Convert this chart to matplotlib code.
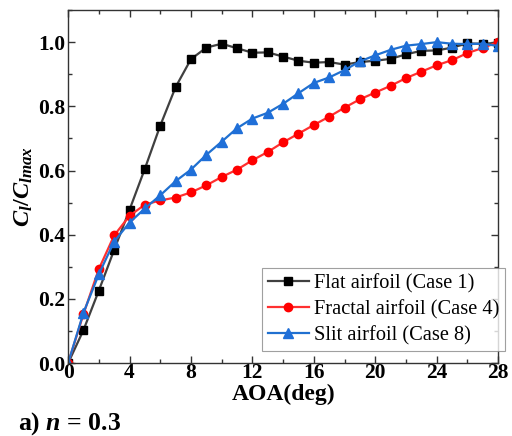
import matplotlib
matplotlib.use("Agg")
import matplotlib.pyplot as plt
from matplotlib.ticker import MultipleLocator

aoa = list(range(0, 29))
flat = [0.0, 0.103, 0.226, 0.353, 0.478, 0.606, 0.740, 0.860, 0.947, 0.983,
        0.995, 0.981, 0.967, 0.968, 0.955, 0.942, 0.936, 0.938, 0.930, 0.938,
        0.942, 0.948, 0.962, 0.973, 0.974, 0.983, 0.996, 0.995, 0.998]
fractal = [0.0, 0.153, 0.293, 0.398, 0.459, 0.494, 0.507, 0.516, 0.532, 0.554,
           0.580, 0.603, 0.632, 0.658, 0.688, 0.715, 0.742, 0.768, 0.796, 0.822,
           0.843, 0.864, 0.888, 0.908, 0.928, 0.944, 0.966, 0.982, 1.0]
slit = [0.0, 0.157, 0.277, 0.379, 0.438, 0.482, 0.523, 0.567, 0.603, 0.649,
        0.690, 0.732, 0.762, 0.780, 0.808, 0.841, 0.873, 0.890, 0.913, 0.940,
        0.959, 0.976, 0.989, 0.994, 1.0, 0.995, 0.994, 0.995, 0.988]

labels = ["Flat airfoil (Case 1)", "Fractal airfoil (Case 4)", "Slit airfoil (Case 8)"]

plt.rcParams['font.family'] = ['Liberation Serif', 'DejaVu Serif']
plt.rcParams['font.weight'] = 'bold'
plt.rcParams['mathtext.fontset'] = 'custom'
plt.rcParams['mathtext.rm'] = 'Liberation Serif:bold'
plt.rcParams['mathtext.it'] = 'Liberation Serif:italic:bold'
plt.rcParams['mathtext.bf'] = 'Liberation Serif:bold'

fig = plt.figure(figsize=(5.12, 4.36), dpi=100)
ax = fig.add_axes([0.133, 0.167, 0.840, 0.810])

ax.plot(aoa, flat, color='#404040', lw=1.6, marker='s', ms=5.3, mfc='black', mec='black', label=labels[0])
ax.plot(aoa, fractal, color='#ff3030', lw=1.6, marker='o', ms=6, mfc='#ff0000', mec='#ff0000', label=labels[1])
ax.plot(aoa, slit, color='#2070d0', lw=1.6, marker='^', ms=7, mfc='#1f6fd8', mec='#1f6fd8', label=labels[2])

ax.set_xlim(0, 28)
ax.set_ylim(0, 1.1)
ax.xaxis.set_major_locator(MultipleLocator(4))
ax.xaxis.set_minor_locator(MultipleLocator(2))
ax.set_yticks([0, 0.2, 0.4, 0.6, 0.8, 1.0])
ax.set_yticklabels(["0.0", "0.2", "0.4", "0.6", "0.8", "1.0"], fontweight='bold')
ax.yaxis.set_minor_locator(MultipleLocator(0.1))
ax.tick_params(which='both', direction='in', top=True, right=True, color='#333333')
ax.tick_params(which='major', length=5, width=1, labelsize=15.5)
ax.tick_params(axis='x', which='major', pad=0)
ax.tick_params(axis='y', which='major', pad=2)
ax.tick_params(which='minor', length=3, width=1)
for s in ax.spines.values():
    s.set_color('#333333')
    s.set_linewidth(1.0)

ax.set_xlabel("AOA(deg)", fontsize=17, fontweight='bold', labelpad=0.5)
ax.set_ylabel(r"$C_l/C_{lmax}$", fontsize=17.5, labelpad=2)

leg = ax.legend(loc='upper left', bbox_to_anchor=(0.450, 0.270),
                prop={'family': 'Liberation Serif', 'weight': 'normal', 'size': 14.7},
                frameon=True, fancybox=False, edgecolor='#888888',
                handlelength=2.0, handletextpad=0.25, borderpad=0.3,
                labelspacing=0.32, borderaxespad=0)
leg.get_frame().set_linewidth(0.8)
leg.set_zorder(5)

fig.text(0.035, 0.014, r"a) $n$ = 0.3", fontsize=18.5, fontweight='bold')

fig.savefig("out.png", dpi=100)
